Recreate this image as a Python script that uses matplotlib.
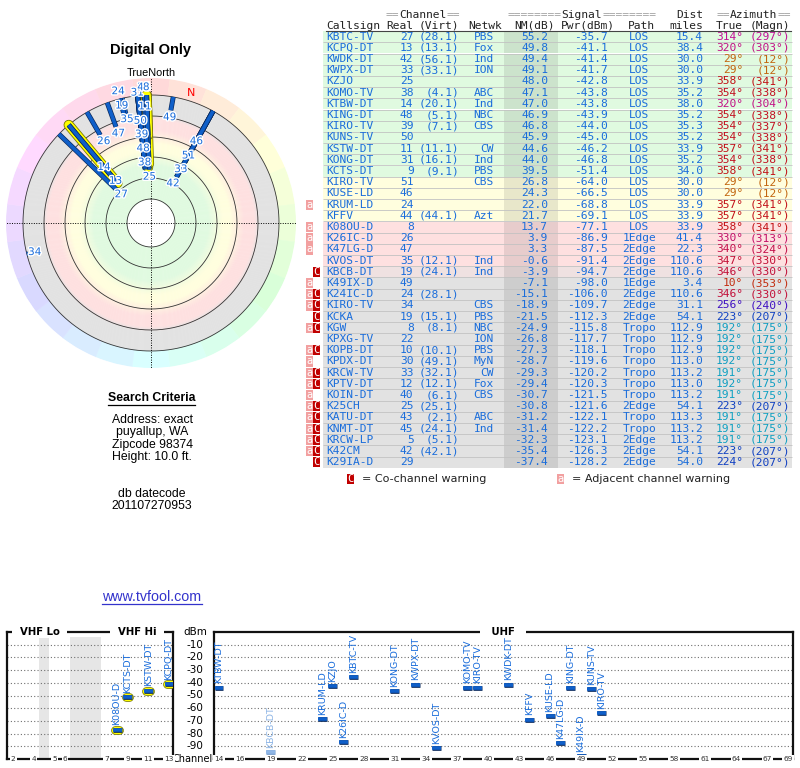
import numpy as np
import colorsys
import matplotlib
matplotlib.use("Agg")
import matplotlib.pyplot as plt
import matplotlib.transforms as mtransforms
from matplotlib import patheffects as pe

# ---------------- data ----------------
callsigns = ["KBTC-TV", "KCPQ-DT", "KWDK-DT", "KWPX-DT", "KZJO", "KOMO-TV", "KTBW-DT",
             "KING-DT", "KIRO-TV", "KUNS-TV", "KSTW-DT", "KONG-DT", "KCTS-DT", "KIRO-TV",
             "KUSE-LD", "KRUM-LD", "KFFV", "K08OU-D", "K26IC-D", "K47LG-D", "KVOS-DT",
             "KBCB-DT", "K49IX-D", "K24IC-D", "KIRO-TV", "KCKA", "KGW", "KPXG-TV",
             "KOPB-DT", "KPDX-DT", "KRCW-TV", "KPTV-DT", "KOIN-DT", "K25CH", "KATU-DT",
             "KNMT-DT", "KRCW-LP", "K42CM", "K29IA-D"]
real_ch = [27, 13, 42, 33, 25, 38, 14, 48, 39, 50, 11, 31, 9, 51, 46, 24, 44, 8, 26, 47, 35,
           19, 49, 24, 34, 19, 8, 22, 10, 30, 33, 12, 40, 25, 43, 45, 5, 42, 29]
virt_ch = ["28.1", "13.1", "56.1", "33.1", "", "4.1", "20.1", "5.1", "7.1", "", "11.1",
           "16.1", "9.1", "", "", "", "44.1", "", "", "", "12.1", "24.1", "", "28.1", "",
           "15.1", "8.1", "", "10.1", "49.1", "32.1", "12.1", "6.1", "25.1", "2.1", "24.1",
           "5.1", "42.1", ""]
network = ["PBS", "Fox", "Ind", "ION", "", "ABC", "Ind", "NBC", "CBS", "", "CW", "Ind", "PBS",
           "CBS", "", "", "Azt", "", "", "", "Ind", "Ind", "", "", "CBS", "PBS", "NBC", "ION",
           "PBS", "MyN", "CW", "Fox", "CBS", "", "ABC", "Ind", "", "", ""]
nm_db = [55.2, 49.8, 49.4, 49.1, 48.0, 47.1, 47.0, 46.9, 46.8, 45.9, 44.6, 44.0, 39.5, 26.8,
         24.3, 22.0, 21.7, 13.7, 3.9, 3.3, -0.6, -3.9, -7.1, -15.1, -18.9, -21.5, -24.9,
         -26.8, -27.3, -28.7, -29.3, -29.4, -30.7, -30.8, -31.2, -31.4, -32.3, -35.4, -37.4]
pwr_dbm = [-35.7, -41.1, -41.4, -41.7, -42.8, -43.8, -43.8, -43.9, -44.0, -45.0, -46.2, -46.8,
           -51.4, -64.0, -66.5, -68.8, -69.1, -77.1, -86.9, -87.5, -91.4, -94.7, -98.0,
           -106.0, -109.7, -112.3, -115.8, -117.7, -118.1, -119.6, -120.2, -120.3, -121.5,
           -121.6, -122.1, -122.2, -123.1, -126.3, -128.2]
path_type = ["LOS", "LOS", "LOS", "LOS", "LOS", "LOS", "LOS", "LOS", "LOS", "LOS", "LOS",
             "LOS", "LOS", "LOS", "LOS", "LOS", "LOS", "LOS", "1Edge", "2Edge", "2Edge",
             "2Edge", "1Edge", "2Edge", "2Edge", "2Edge", "Tropo", "Tropo", "Tropo", "Tropo",
             "Tropo", "Tropo", "Tropo", "2Edge", "Tropo", "Tropo", "2Edge", "2Edge", "2Edge"]
dist_mi = [15.4, 38.4, 30.0, 30.0, 33.9, 35.2, 38.0, 35.2, 35.3, 35.2, 33.9, 35.2, 34.0, 30.0,
           30.0, 33.9, 33.9, 33.9, 41.4, 22.3, 110.6, 110.6, 3.4, 110.6, 31.1, 54.1, 112.9,
           112.9, 112.9, 113.0, 113.2, 113.0, 113.2, 54.1, 113.3, 113.2, 113.2, 54.1, 54.0]
az_true = [314, 320, 29, 29, 358, 354, 320, 354, 354, 354, 357, 354, 358, 29, 29, 357, 357,
           358, 330, 340, 347, 346, 10, 346, 256, 223, 192, 192, 192, 192, 191, 192, 191, 223,
           191, 191, 191, 223, 224]
az_magn = [297, 303, 12, 12, 341, 338, 304, 338, 337, 338, 341, 338, 341, 12, 12, 341, 341,
           341, 313, 324, 330, 330, 353, 330, 240, 207, 175, 175, 175, 175, 175, 175, 175, 207,
           175, 175, 175, 207, 207]
warnings = ["", "", "", "", "", "", "", "", "", "", "", "", "", "", "", "a", "", "a", "a",
            "a", "", "C", "a", "aC", "aC", "C", "aC", "", "aC", "a", "aC", "aC", "a", "aC",
            "aC", "aC", "aC", "aC", "C"]

vhf_ticks = [2, 4, 5, 6, 7, 9, 11, 13]
uhf_ticks = [14, 16, 19, 22, 25, 28, 31, 34, 37, 40, 43, 46, 49, 52, 55, 58, 61, 64, 67, 69]
dbm_ticks = [-10, -20, -30, -40, -50, -60, -70, -80, -90]

search_lines = ["Address: exact", "puyallup, WA", "Zipcode 98374", "Height: 10.0 ft."]
datecode = "201107270953"

BLUE = "#1a6ddb"
n = len(callsigns)

fig = plt.figure(figsize=(8, 7.68), dpi=100)
ax0 = fig.add_axes([0, 0, 1, 1])
ax0.set_xlim(0, 800)
ax0.set_ylim(768, 0)
ax0.axis("off")

# ---------------- left column texts ----------------
sans = "Liberation Sans"
ax0.text(151, 50, "Digital Only", ha="center", va="center", family=sans,
         fontweight="bold", fontsize=10.5)
ax0.text(151, 73, "TrueNorth", ha="center", va="center", family=sans, fontsize=7.8)
ax0.text(152, 398, "Search Criteria", ha="center", va="center", family=sans,
         fontweight="bold", fontsize=8.8)
ax0.plot([108, 195], [404.5, 404.5], color="black", lw=0.9)
for k, s in enumerate(search_lines):
    ax0.text(152, 420 + 12.4 * k, s, ha="center", va="center", family=sans, fontsize=8.8)
ax0.text(152, 494, "db datecode", ha="center", va="center", family=sans, fontsize=8.8)
ax0.text(152, 506, datecode, ha="center", va="center", family=sans, fontsize=8.8)
ax0.text(152, 597, "www.tvfool.com", ha="center", va="center", family=sans,
         fontsize=10.3, color="#3333cc")
ax0.plot([102, 202], [604, 604], color="#3333cc", lw=0.9)

# ---------------- compass (polar) ----------------
cx, cy, R = 151, 223, 145
axp = fig.add_axes([(cx - R) / 800, (768 - cy - R) / 768, 2 * R / 800, 2 * R / 768],
                   projection="polar")
axp.set_theta_zero_location("N")
axp.set_theta_direction(-1)
axp.set_ylim(0, R)
axp.axis("off")

rings = [24, 45, 66, 86, 107, 128]
green = np.array([0.88, 0.98, 0.88])
yellow = np.array([1.0, 0.995, 0.87])
pink = np.array([0.995, 0.88, 0.88])
gray = np.array([0.885, 0.885, 0.885])
stop_r = [24, 58, 72, 80, 93, 104, 109, 128]
stop_c = [green, green, yellow, yellow, pink, pink, gray, gray]
for r in np.arange(24, 128, 1.0):
    c = np.array([np.interp(r + 0.5, stop_r, [s[j] for s in stop_c]) for j in range(3)])
    axp.bar(0, 1.0, width=2 * np.pi, bottom=r, color=c, edgecolor=c, linewidth=0.3,
            zorder=1)
for k in range(24):
    az = k * 15
    c = colorsys.hsv_to_rgb(az / 360.0, 0.15, 1.0)
    axp.bar(np.deg2rad(az), R - 128, width=np.deg2rad(15), bottom=128, color=c,
            edgecolor=c, linewidth=0.3, zorder=1)
th_full = np.linspace(0, 2 * np.pi, 361)
for r in rings:
    axp.plot(th_full, np.full_like(th_full, r), color="#333333", lw=0.6, zorder=2)
for th in [0, np.pi / 2, np.pi, 3 * np.pi / 2]:
    axp.plot([th, th], [0, R], color="black", lw=0.7, ls=(0, (1, 1.5)), zorder=2)

NM_PTS = [-20, 0, 15, 30, 60]
R_PTS = [128, 107, 86, 66, 45]
drawn = [i for i in range(n) if nm_db[i] > -20]
r_in = {i: float(np.interp(nm_db[i], NM_PTS, R_PTS)) for i in drawn}
for i in drawn:
    if real_ch[i] <= 13:
        th = np.deg2rad(az_true[i])
        axp.plot([th, th], [r_in[i], 128], color="#ffff00", lw=6.2, solid_capstyle="round",
                 zorder=3, path_effects=[pe.Stroke(linewidth=7.4, foreground="#7a7a00"),
                                         pe.Normal()])
for i in sorted(drawn, key=lambda j: -nm_db[j]):
    th = np.deg2rad(az_true[i])
    axp.plot([th, th], [r_in[i], 128], color="#0f5fc9", lw=2.6, solid_capstyle="butt",
             zorder=4, path_effects=[pe.Stroke(linewidth=3.6, foreground="#0a2a5e"),
                                     pe.Normal()])

placed = []
for i in sorted(drawn, key=lambda j: -nm_db[j]):
    a = np.deg2rad(az_true[i])
    r = r_in[i] - 7
    while r < 136:
        px, py = r * np.sin(a), -r * np.cos(a)
        if all(abs(px - qx) >= 12 or abs(py - qy) >= 13.5 for qx, qy in placed):
            break
        r += 1.0
    r = min(r, 136)
    placed.append((r * np.sin(a), -r * np.cos(a)))
    axp.text(a, r, str(real_ch[i]), ha="center", va="center", fontsize=7.5, color=BLUE,
             zorder=6, path_effects=[pe.withStroke(linewidth=2, foreground="white")])

decl = az_true[0] - az_magn[0]
axp.text(np.deg2rad(decl), 136, "N", ha="center", va="center", fontsize=8, color="red",
         zorder=6)

# ---------------- table ----------------
FS = 8.1
mono = dict(family="DejaVu Sans Mono", fontsize=FS)
CW = 0.602 * FS * 100 / 72.0
y1, y2 = 15, 26
for word, neq, xc in [("Channel", 2, 423), ("Signal", 8, 582), ("Azimuth", 2, 753.5)]:
    half = len(word) * CW / 2
    ax0.text(xc, y1, word, ha="center", va="center", color="#222222", **mono)
    ax0.text(xc - half, y1, "=" * neq, ha="right", va="center", color="#a0a0a0", **mono)
    ax0.text(xc + half, y1, "=" * neq, ha="left", va="center", color="#a0a0a0", **mono)
ax0.text(703, y1, "Dist", ha="right", va="center", color="#222222", **mono)
for txt, xx, ha in [("Callsign", 326, "left"), ("Real", 413, "right"),
                    ("(Virt)", 459, "right"), ("Netwk", 502, "right"),
                    ("NM(dB)", 555, "right"), ("Pwr(dBm)", 615, "right"),
                    ("Path", 655, "right"), ("miles", 703, "right"), ("True", 743, "right"),
                    ("(Magn)", 790, "right")]:
    ax0.text(xx, y2, txt, ha=ha, va="center", color="#222222", **mono)
ax0.plot([326, 791], [31.2, 31.2], color="#444444", lw=0.8)


def row_bg(v):
    if v >= 30:
        return green
    if v >= 15:
        return yellow
    t = float(np.clip((v + 7) / 6.4, 0, 1))
    return gray * (1 - t) + pink * t


row_y = 36.7 + 11.2 * np.arange(n)
bgs = [row_bg(v) for v in nm_db]
ax0.barh(row_y, 469, left=323, height=11.2, color=bgs, linewidth=0)
ax0.barh(row_y, 54, left=504, height=11.2, color=[b * 0.91 for b in bgs], linewidth=0)
ax0.hlines(row_y[1:] - 5.6, 323, 792, color="#c2c2c2", lw=0.6)

for i in range(n):
    y = row_y[i]
    ax0.text(326, y, callsigns[i], ha="left", va="center", color=BLUE, **mono)
    ax0.text(413.5, y, str(real_ch[i]), ha="right", va="center", color=BLUE, **mono)
    if virt_ch[i]:
        ax0.text(459, y, "(" + virt_ch[i] + ")", ha="right", va="center", color=BLUE, **mono)
    if network[i]:
        ax0.text(494, y, network[i], ha="right", va="center", color=BLUE, **mono)
    ax0.text(548, y, f"{nm_db[i]:.1f}", ha="right", va="center", color=BLUE, **mono)
    ax0.text(608, y, f"{pwr_dbm[i]:.1f}", ha="right", va="center", color=BLUE, **mono)
    ax0.text(639.5, y, path_type[i], ha="center", va="center", color=BLUE, **mono)
    ax0.text(703, y, f"{dist_mi[i]:.1f}", ha="right", va="center", color=BLUE, **mono)
    ac = colorsys.hsv_to_rgb(az_true[i] / 360.0, 0.92, 0.76)
    ax0.text(743, y, f"{az_true[i]}°", ha="right", va="center", color=ac, **mono)
    ax0.text(790, y, f"({az_magn[i]}°)", ha="right", va="center", color=ac, **mono)
    for ch, x0, fc in [("a", 306, "#f2a0a0"), ("C", 313, "#c00000")]:
        if ch in warnings[i]:
            ax0.barh(y, 7, left=x0, height=10.4, color=fc, linewidth=0)
            ax0.text(x0 + 3.5, y, ch, ha="center", va="center", color="white",
                     family="DejaVu Sans Mono", fontsize=7.5)

ly = 479
ax0.barh(ly, 7, left=347, height=10.4, color="#c00000", linewidth=0)
ax0.text(350.5, ly, "C", ha="center", va="center", color="white",
         family="DejaVu Sans Mono", fontsize=7.5)
ax0.text(362, ly, "= Co-channel warning", ha="left", va="center", fontsize=8,
         color="#222222")
ax0.barh(ly, 7, left=557, height=10.4, color="#f2a0a0", linewidth=0)
ax0.text(560.5, ly, "a", ha="center", va="center", color="white",
         family="DejaVu Sans Mono", fontsize=7.5)
ax0.text(572, ly, "= Adjacent channel warning", ha="left", va="center", fontsize=8,
         color="#222222")

# ---------------- spectrum chart ----------------


def vhf_x(ch):
    if ch <= 4:
        return ch - 2
    if ch <= 6:
        return ch - 1
    return ch + 2


axv = fig.add_axes([7 / 800, 9 / 768, 166 / 800, 127 / 768])
axu = fig.add_axes([214 / 800, 9 / 768, 579 / 800, 127 / 768])
axv.set_xlim(-0.58, 15.38)
axu.set_xlim(13.52, 69.48)
for ax in (axv, axu):
    ax.set_ylim(-100, 0)
    ax.set_xticks([])
    ax.set_yticks([])
    ax.patch.set_alpha(0)
    for s in ax.spines.values():
        s.set_linewidth(1.6)
        s.set_color("#111111")
    for v in dbm_ticks:
        ax.axhline(v, color="#707070", lw=0.8, ls=(0, (1, 2)), zorder=1.5)

axv.axvspan(2.5, 3.5, ymax=0.96, color="#e6e6e6", lw=0, zorder=1)
axv.axvspan(5.5, 8.5, ymax=0.96, color="#e6e6e6", lw=0, zorder=1)

title_kw = dict(ha="center", va="center", fontweight="bold", fontsize=7.3,
                bbox=dict(facecolor="white", edgecolor="none", pad=0.5), zorder=5,
                clip_on=False)
axv.text(0.196, 1.0, "  VHF Lo  ", transform=axv.transAxes, **title_kw)
axv.text(0.786, 1.0, "  VHF Hi  ", transform=axv.transAxes, **title_kw)
axu.text(0.499, 1.0, "   UHF   ", transform=axu.transAxes, **title_kw)

tick_kw = dict(ha="center", va="center", fontsize=5.3, color="#333333", zorder=5,
               bbox=dict(facecolor="white", edgecolor="none", pad=0.8), clip_on=False)
for ch in vhf_ticks:
    axv.text(vhf_x(ch), -100, str(ch), **tick_kw)
for ch in uhf_ticks:
    axu.text(ch, -100, str(ch), **tick_kw)

trans = mtransforms.blended_transform_factory(fig.transFigure, axu.transData)
axu.text(195 / 800, 0, "dBm", transform=trans, ha="center", va="center", fontsize=7.5,
         clip_on=False)
for v in dbm_ticks:
    axu.text(195 / 800, v, str(v), transform=trans, ha="center", va="center", fontsize=7.5,
             clip_on=False)
ax0.text(193, 759, "Channel", ha="center", va="center", fontsize=7.0)

for i in range(n):
    if pwr_dbm[i] <= -100:
        continue
    if real_ch[i] <= 13:
        ax, x = axv, vhf_x(real_ch[i])
        ax.hlines(pwr_dbm[i], x - 0.18, x + 0.18, color="#ffff00", lw=5.2,
                  capstyle="round", zorder=3,
                  path_effects=[pe.Stroke(linewidth=6.3, foreground="#7a7a00",
                                          capstyle="round"), pe.Normal()])
    else:
        ax, x = axu, real_ch[i]
    weak = "C" in warnings[i]
    mc = "#8fb6e6" if weak else "#0f5fc9"
    oc = "#6f98cc" if weak else "#0a2a5e"
    ax.hlines(pwr_dbm[i], x - 0.43, x + 0.43, color=mc, lw=2.6, zorder=4,
              path_effects=[pe.Stroke(linewidth=3.4, foreground=oc), pe.Normal()])
    ax.text(x, pwr_dbm[i] + 3.6, callsigns[i], rotation=90, ha="center", va="bottom",
            fontsize=6.8, color="#8fb6e6" if weak else BLUE, zorder=4)

fig.savefig("out.png", dpi=100)
